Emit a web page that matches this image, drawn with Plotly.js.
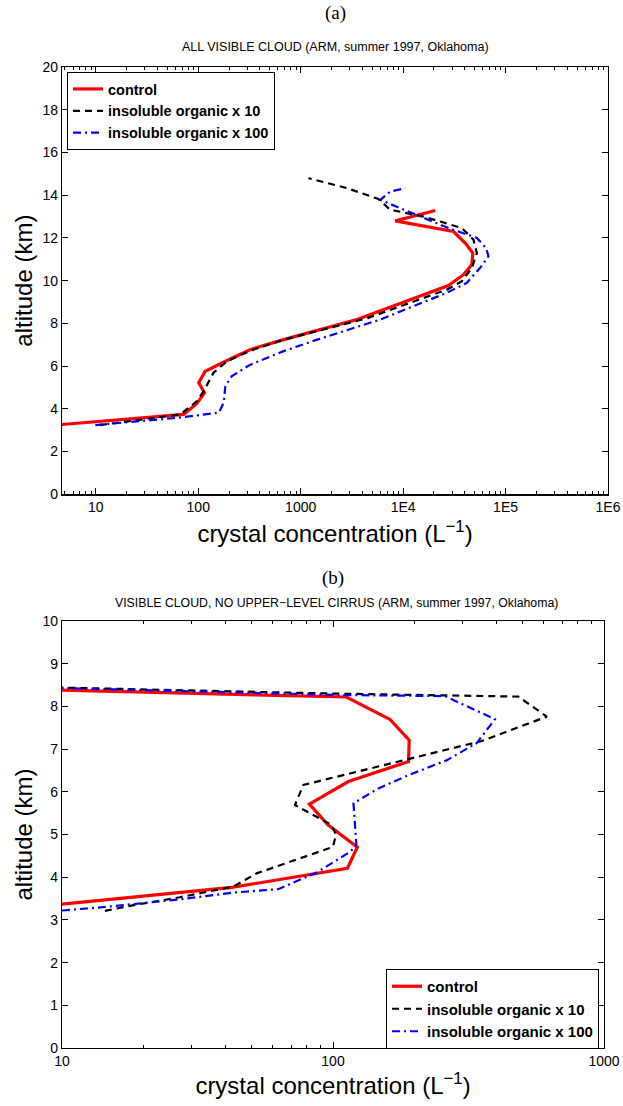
<!DOCTYPE html>
<html>
<head>
<meta charset="utf-8">
<script src="https://cdn.plot.ly/plotly-3.0.1.min.js"></script>
<style>html,body{margin:0;padding:0;background:#fff;}#chart{width:623px;height:1106px;}</style>
</head>
<body>
<div id="chart"></div>
<script>
// ---------- Panel (a): ALL VISIBLE CLOUD ----------
const a_control_alt  = [3.24, 3.74, 4.25, 4.75, 5.22, 5.76, 6.26, 6.78, 7.24, 8.18, 9.77, 10.28, 10.75, 11.29, 11.76, 12.30, 12.80, 13.28];
const a_control_conc = [4, 72, 97, 115, 101, 117, 191, 324, 681, 3540, 27700, 38800, 46900, 47900, 40400, 31000, 8380, 20600];

const a_org10_alt  = [3.24, 3.74, 4.36, 4.83, 5.69, 6.23, 6.74, 7.24, 8.26, 9.58, 9.97, 10.59, 11.29, 11.92, 12.46, 13.00, 13.32, 13.82, 14.33, 14.80];
const a_org10_conc = [11, 67, 97, 113, 141, 191, 330, 690, 4570, 26700, 37400, 46900, 52500, 48600, 37500, 15800, 7480, 5750, 2830, 1190];

const a_org100_alt  = [3.24, 3.58, 3.82, 4.28, 5.06, 5.53, 6.07, 6.70, 7.24, 7.71, 8.18, 9.43, 9.89, 10.60, 11.14, 11.53, 12.00, 12.46, 13.00, 13.78, 14.17, 14.33];
const a_org100_conc = [9.9, 62, 159, 177, 184, 213, 322, 681, 1450, 3020, 5990, 26700, 41700, 56500, 68100, 64600, 52500, 27700, 14700, 5980, 7480, 10500];

// ---------- Panel (b): VISIBLE CLOUD, NO UPPER-LEVEL CIRRUS ----------
const b_control_alt  = [3.37, 3.76, 4.21, 4.70, 5.22, 5.71, 6.24, 6.71, 7.21, 7.70, 8.22, 8.38];
const b_control_conc = [10, 42.3, 113, 123, 96, 81.8, 114, 190, 191, 162, 112, 10];

const b_org10_alt  = [3.21, 3.33, 3.53, 3.78, 4.09, 4.71, 4.99, 5.22, 5.69, 6.16, 7.19, 7.76, 8.23, 8.30, 8.44];
const b_org10_conc = [14.4, 17.8, 27.2, 42.9, 52.3, 100, 102.5, 98.9, 72.4, 77.7, 354, 615, 483, 100, 10];

const b_org100_alt  = [3.22, 3.30, 3.48, 3.64, 3.72, 4.11, 4.60, 4.75, 5.73, 6.08, 6.39, 6.74, 7.14, 7.70, 8.24, 8.27, 8.43];
const b_org100_conc = [10, 14.2, 27.2, 42.9, 62.8, 87.1, 116, 122, 119, 147, 190, 263, 339, 396, 259, 100, 10];

// ---------- labels ----------
const seriesNames = ["control", "insoluble organic x 10", "insoluble organic x 100"];
const a_xtickvals = [10, 100, 1000, 10000, 100000, 1000000];
const a_xticktext = ["10", "100", "1000", "1E4", "1E5", "1E6"];
const b_xtickvals = [10, 100, 1000];
const b_xticktext = ["10", "100", "1000"];
const a_ytickvals = [0, 2, 4, 6, 8, 10, 12, 14, 16, 18, 20];
const b_ytickvals = [0, 1, 2, 3, 4, 5, 6, 7, 8, 9, 10];

// minor tick positions for the log axes (2..9 within each decade)
function minorTicks(d0, d1) {
  const out = [];
  for (let d = d0; d < d1; d++) for (let k = 2; k <= 9; k++) out.push(k * Math.pow(10, d));
  return out;
}

const styles = [
  {color: "#ff0000", width: 3.2, dash: "solid"},
  {color: "#000000", width: 2.2, dash: "7px,5px"},
  {color: "#0000ff", width: 2.2, dash: "8px,4px,2px,4px"}
];

function tr(x, y, i, xa, ya, leg) {
  return {
    x: x, y: y, xaxis: xa, yaxis: ya, type: "scatter", mode: "lines",
    name: seriesNames[i], legend: leg,
    line: {color: styles[i].color, width: styles[i].width, dash: styles[i].dash},
    hoverinfo: "x+y"
  };
}

const data = [
  tr(a_control_conc, a_control_alt, 0, "x", "y", "legend"),
  tr(a_org10_conc, a_org10_alt, 1, "x", "y", "legend"),
  tr(a_org100_conc, a_org100_alt, 2, "x", "y", "legend"),
  tr(b_control_conc, b_control_alt, 0, "x2", "y2", "legend2"),
  tr(b_org10_conc, b_org10_alt, 1, "x2", "y2", "legend2"),
  tr(b_org100_conc, b_org100_alt, 2, "x2", "y2", "legend2")
];

// pixel geometry helpers
const W = 623, H = 1106;
const L = 62, R = 15, T = 67, B = 58;
const PW = W - L - R, PH = H - T - B;
const px2x = px => (px - L) / PW;
const py2y = py => (H - B - py) / PH;

const FONT = "Liberation Sans, Arial, Helvetica, sans-serif";
const SERIF = "Liberation Serif, Times New Roman, serif";

function xaxisBase(range, vals, text, minors, domain, anchor, standoff) {
  return {
    type: "log", range: range, domain: domain, anchor: anchor,
    tickmode: "array", tickvals: vals, ticktext: text,
    ticks: "inside", ticklen: 6, tickwidth: 1, tickcolor: "#000",
    minor: {tickmode: "array", tickvals: minors, ticks: "inside", ticklen: 3, tickwidth: 1, tickcolor: "#000", showgrid: false},
    showline: true, linecolor: "#000", linewidth: 1.2, mirror: "ticks",
    showgrid: false, zeroline: false,
    tickfont: {family: FONT, size: 14, color: "#000"},
    title: {text: "crystal concentration (L<sup>\u22121</sup>)", font: {family: FONT, size: 24, color: "#000"}, standoff: standoff},
    automargin: false, fixedrange: true
  };
}
function yaxisBase(range, vals, domain, anchor) {
  return {
    range: range, domain: domain, anchor: anchor,
    tickmode: "array", tickvals: vals,
    ticks: "inside", ticklen: 6, tickwidth: 1, tickcolor: "#000",
    showline: true, linecolor: "#000", linewidth: 1.2, mirror: "ticks",
    showgrid: false, zeroline: false,
    tickfont: {family: FONT, size: 14, color: "#000"},
    title: {text: "altitude (km)", font: {family: FONT, size: 24, color: "#000"}, standoff: 3},
    automargin: false, fixedrange: true
  };
}

const layout = {
  width: W, height: H,
  margin: {l: L, r: R, t: T, b: B, pad: 0},
  paper_bgcolor: "#fff", plot_bgcolor: "#fff",
  showlegend: true,
  xaxis: xaxisBase([0.67, 6], a_xtickvals, a_xticktext, minorTicks(0, 6), [0, 1], "y", 11),
  yaxis: yaxisBase([0, 20], a_ytickvals, [py2y(494.3), 1], "x"),
  xaxis2: xaxisBase([1, 3], b_xtickvals, b_xticktext, minorTicks(1, 3), [0, px2x(604)], "y2", 4),
  yaxis2: yaxisBase([0, 10], b_ytickvals, [0, py2y(621)], "x2"),
  legend: {
    x: px2x(67), y: py2y(72), xanchor: "left", yanchor: "top",
    bgcolor: "#fff", bordercolor: "#000", borderwidth: 1,
    font: {family: FONT, size: 14.5, color: "#000", weight: "bold"},
    tracegroupgap: 0, itemwidth: 30
  },
  legend2: {
    x: px2x(599), y: py2y(1049), xanchor: "right", yanchor: "bottom",
    bgcolor: "#fff", bordercolor: "#000", borderwidth: 1,
    font: {family: FONT, size: 15, color: "#000", weight: "bold"},
    tracegroupgap: 0, itemwidth: 30
  },
  annotations: [
    {text: "(a)", xref: "paper", yref: "paper", x: px2x(335), y: py2y(13), xanchor: "center", yanchor: "middle", showarrow: false,
     font: {family: SERIF, size: 19, color: "#000"}},
    {text: "ALL VISIBLE CLOUD (ARM, summer 1997, Oklahoma)", xref: "paper", yref: "paper", x: px2x(335), y: py2y(47), xanchor: "center", yanchor: "middle", showarrow: false,
     font: {family: FONT, size: 12.5, color: "#000"}},
    {text: "(b)", xref: "paper", yref: "paper", x: px2x(333), y: py2y(578), xanchor: "center", yanchor: "middle", showarrow: false,
     font: {family: SERIF, size: 19, color: "#000"}},
    {text: "VISIBLE CLOUD, NO UPPER\u2212LEVEL CIRRUS (ARM, summer 1997, Oklahoma)", xref: "paper", yref: "paper", x: px2x(336), y: py2y(603), xanchor: "center", yanchor: "middle", showarrow: false,
     font: {family: FONT, size: 12.3, color: "#000"}}
  ]
};

Plotly.newPlot("chart", data, layout, {staticPlot: true, displayModeBar: false});
</script>
</body>
</html>
